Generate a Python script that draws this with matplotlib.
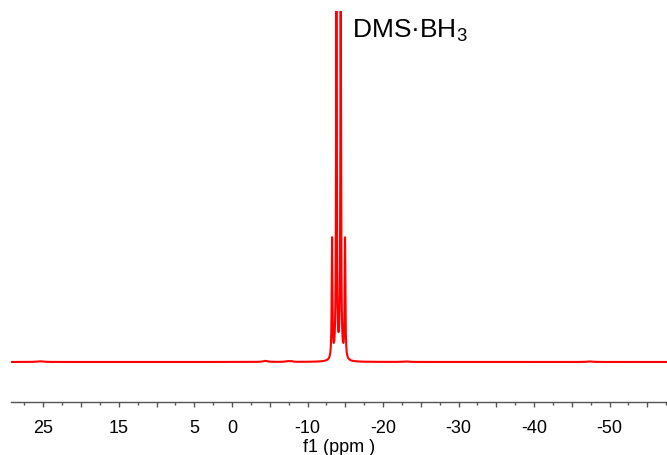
import numpy as np
import matplotlib
matplotlib.use('Agg')
import matplotlib.pyplot as plt

plt.rcParams['font.family'] = ['Liberation Sans', 'DejaVu Sans']
plt.rcParams['mathtext.fontset'] = 'custom'
plt.rcParams['mathtext.rm'] = 'Liberation Sans'
plt.rcParams['mathtext.default'] = 'regular'

# peak list (ppm, relative height, half width in ppm)
peak_ppm = [-13.25, -13.82, -14.39, -14.96]
peak_height = [0.342, 1.03, 1.03, 0.342]
peak_width = [0.058, 0.058, 0.058, 0.058]

# small baseline bumps
bump_ppm = [25.4, -4.4, -7.3, -7.8, -23.0, -47.4]
bump_height = [0.002, 0.003, 0.002, 0.002, 0.0015, 0.0015]
bump_width = [0.5, 0.35, 0.25, 0.25, 0.4, 0.4]

# long ticks every 5 ppm, only some of them carry a label
tick_pos = [25, 20, 15, 10, 5, 0, -5, -10, -15, -20, -25, -30, -35, -40, -45, -50, -55]
tick_labels = ['25', '', '15', '', '5', '0', '', '-10', '', '-20', '', '-30', '', '-40', '', '-50', '']
minor_pos = [27.5, 22.5, 17.5, 12.5, 7.5, 2.5, -2.5, -7.5, -12.5, -17.5, -22.5,
             -27.5, -32.5, -37.5, -42.5, -47.5, -52.5, -57.5]

x_left, x_right = 29.27, -57.6

ppm = np.linspace(x_left, x_right, 20000)
intensity = np.zeros_like(ppm)
for p, h, w in zip(peak_ppm + bump_ppm, peak_height + bump_height, peak_width + bump_width):
    intensity += h * w**2 / ((ppm - p)**2 + w**2)

fig = plt.figure(figsize=(6.67, 4.56), dpi=100)
ax = fig.add_axes([11 / 667, 53 / 456, 656 / 667, 391 / 456])
ax.plot(ppm, intensity, color='#ff0000', lw=1.5)
ax.set_xlim(x_left, x_right)
ax.set_ylim(-0.114, 1.0)

for s in ['top', 'left', 'right']:
    ax.spines[s].set_visible(False)
ax.spines['bottom'].set_color('#555555')
ax.spines['bottom'].set_linewidth(1.0)
ax.set_yticks([])

ax.set_xticks(tick_pos)
ax.set_xticklabels(tick_labels, fontsize=13)
ax.set_xticks(minor_pos, minor=True)
ax.tick_params(axis='x', which='major', direction='out', length=3.6, width=1, pad=8.9,
               colors='#555555', labelcolor='black')
ax.tick_params(axis='x', which='minor', direction='out', length=2, width=1, colors='#555555')
ax.set_xlabel('f1 (ppm )', fontsize=13, labelpad=1)

ax.text(-15.9, 0.9345, 'DMS·BH$_3$', transform=ax.get_xaxis_transform(),
        fontsize=19, ha='left', va='baseline')

fig.savefig('out.png', dpi=100)
